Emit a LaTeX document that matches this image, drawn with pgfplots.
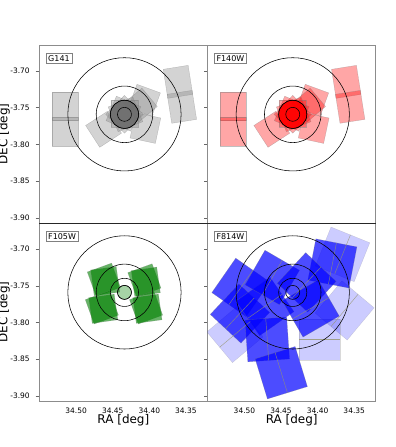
\documentclass[border=0pt]{standalone}
\usepackage{fontspec}
\setmainfont{DejaVu Sans}
\usepackage{pgfplots}
\pgfplotsset{compat=1.18}
\usepgfplotslibrary{groupplots}
\usetikzlibrary{calc}

\tikzset{lbl/.style={draw=black!50, fill=white, anchor=north west, xshift=6.7pt, yshift=-7.7pt,
  font=\fontsize{8}{9}\selectfont, inner xsep=2.1pt, inner ysep=2.4pt, text height=5.8pt, text depth=0pt}}

% WFC3/IR pointings (same for G141 and F140W)
\newcommand{\irfields}{%
\addplot[fp] coordinates {(34.5334,-3.7286) (34.4980,-3.7286) (34.4980,-3.7676) (34.5334,-3.7676)} -- cycle;
\addplot[fp] coordinates {(34.5334,-3.7631) (34.4980,-3.7631) (34.4980,-3.8017) (34.5334,-3.8017)} -- cycle;
\addplot[fp] coordinates {(34.3810,-3.6977) (34.3470,-3.6923) (34.3407,-3.7318) (34.3748,-3.7372)} -- cycle;
\addplot[fp] coordinates {(34.3757,-3.7317) (34.3416,-3.7264) (34.3354,-3.7659) (34.3694,-3.7712)} -- cycle;
\addplot[fp] coordinates {(34.3849,-3.7298) (34.4169,-3.7181) (34.4286,-3.7501) (34.3966,-3.7618)} -- cycle;
\addplot[fp] coordinates {(34.4102,-3.7233) (34.4352,-3.7443) (34.4142,-3.7693) (34.3892,-3.7483)} -- cycle;
\addplot[fp] coordinates {(34.3844,-3.7640) (34.4190,-3.7566) (34.4264,-3.7912) (34.3918,-3.7986)} -- cycle;
\addplot[fp] coordinates {(34.4574,-3.7550) (34.4871,-3.7742) (34.4678,-3.8039) (34.4381,-3.7847)} -- cycle;
\addplot[fp] coordinates {(34.4158,-3.7395) (34.4522,-3.7395) (34.4522,-3.7758) (34.4158,-3.7758)} -- cycle;
\addplot[fp] coordinates {(34.4226,-3.7354) (34.4563,-3.7490) (34.4427,-3.7827) (34.4090,-3.7690)} -- cycle;
\addplot[fp] coordinates {(34.4340,-3.7333) (34.4597,-3.7590) (34.4340,-3.7847) (34.4083,-3.7590)} -- cycle;
\addplot[fp] coordinates {(34.4450,-3.7343) (34.4592,-3.7677) (34.4257,-3.7819) (34.4116,-3.7485)} -- cycle;
}

\newcommand{\rings}{%
\addplot[only marks, mark=o, mark size=56.7pt, mark options={draw=black, line width=0.55pt}] coordinates {(34.434,-3.759)};
\addplot[only marks, mark=o, mark size=28.3pt, mark options={draw=black, line width=0.55pt}] coordinates {(34.434,-3.759)};
\addplot[only marks, mark=o, mark size=14.1pt, mark options={draw=black, line width=0.55pt}] coordinates {(34.434,-3.759)};
\addplot[only marks, mark=o, mark size=7pt, mark options={draw=black, line width=0.55pt}] coordinates {(34.434,-3.759)};
}

\begin{document}
\begin{tikzpicture}
\begin{groupplot}[
  group style={group size=2 by 2, horizontal sep=0pt, vertical sep=0pt},
  scale only axis, width=168.5pt, height=178.3pt,
  x dir=reverse, xmin=34.3205, xmax=34.5505, ymin=-3.907, ymax=-3.6645,
  axis line style={black!45, line width=0.7pt},
  xtick={34.35,34.40,34.45,34.50},
  ytick={-3.90,-3.85,-3.80,-3.75,-3.70},
  xtick style={draw=none},
  ytick style={draw=black!60, line width=0.5pt},
  tick align=outside, ytick pos=left, major tick length=3.5pt,
  tick label style={font=\fontsize{7.5}{9}\selectfont},
  yticklabel style={xshift=-2.5pt},
  every axis x label/.style={at={(axis description cs:0.5,-0.127)}, anchor=base, font=\fontsize{12}{14}\selectfont},
  every axis y label/.style={at={(axis description cs:-0.19,0.5)}, rotate=90, anchor=base, font=\fontsize{12}{14}\selectfont},
  fp/.style={draw=gray, draw opacity=0.5, line width=0.3pt, fill=gray, fill opacity=0.35},
  dk/.style={draw=gray, draw opacity=0.5, line width=0.3pt, fill=blue, fill opacity=0.7},
  lt/.style={draw=gray, draw opacity=0.3, line width=0.3pt, fill=blue, fill opacity=0.2},
  chip/.style={draw={rgb,255:red,150;green,150;blue,110}, line width=0.45pt, draw opacity=0.8},
]
% G141
\nextgroupplot[xticklabels={}, yticklabels={-3.90,-3.85,-3.80,-3.75,-3.70}, ylabel={DEC [deg]}]
\irfields
\addplot[only marks, mark=*, mark size=14.1pt, mark options={fill=black!58, fill opacity=0.85, draw=none}] coordinates {(34.434,-3.759)};
\rings
\node[lbl] at (axis description cs:0,1) {G141};

% F140W
\nextgroupplot[xticklabels={}, yticklabels={},
  fp/.style={draw=gray, draw opacity=0.5, line width=0.3pt, fill=red, fill opacity=0.35}]
\irfields
\addplot[only marks, mark=*, mark size=14.1pt, mark options={fill=red, fill opacity=0.9, draw=none}] coordinates {(34.434,-3.759)};
\rings
\node[lbl] at (axis description cs:0,1) {F140W};

% F105W
\nextgroupplot[xticklabels={34.35,34.40,34.45,34.50}, yticklabels={-3.90,-3.85,-3.80,-3.75,-3.70},
  xlabel={RA [deg]}, ylabel={DEC [deg]},
  fp/.style={draw=gray, draw opacity=0.4, line width=0.3pt, fill={rgb,255:red,0;green,128;blue,0}, fill opacity=0.6}]
\addplot[fp] coordinates {(34.4516,-3.7191) (34.4849,-3.7312) (34.4727,-3.7645) (34.4395,-3.7523)} -- cycle;
\addplot[fp] coordinates {(34.4453,-3.7236) (34.4803,-3.7285) (34.4754,-3.7635) (34.4404,-3.7586)} -- cycle;
\addplot[fp] coordinates {(34.3962,-3.7200) (34.4295,-3.7321) (34.4173,-3.7654) (34.3841,-3.7532)} -- cycle;
\addplot[fp] coordinates {(34.3899,-3.7245) (34.4249,-3.7294) (34.4200,-3.7645) (34.3850,-3.7595)} -- cycle;
\addplot[fp] coordinates {(34.4543,-3.7567) (34.4876,-3.7689) (34.4755,-3.8021) (34.4422,-3.7900)} -- cycle;
\addplot[fp] coordinates {(34.4480,-3.7613) (34.4830,-3.7662) (34.4781,-3.8012) (34.4431,-3.7963)} -- cycle;
\addplot[fp] coordinates {(34.3939,-3.7567) (34.4272,-3.7689) (34.4151,-3.8021) (34.3818,-3.7900)} -- cycle;
\addplot[fp] coordinates {(34.3876,-3.7613) (34.4227,-3.7662) (34.4178,-3.8012) (34.3827,-3.7963)} -- cycle;
\addplot[only marks, mark=*, mark size=7pt, mark options={fill={rgb,255:red,0;green,128;blue,0}, fill opacity=0.35, draw=none}] coordinates {(34.434,-3.759)};
\rings
\node[lbl] at (axis description cs:0,1) {F105W};

% F814W
\nextgroupplot[xticklabels={34.35,34.40,34.45,34.50}, yticklabels={}, xlabel={RA [deg]}]
% light exposures
\addplot[lt] coordinates {(34.3287,-3.6914) (34.3817,-3.6700) (34.4031,-3.7230) (34.3501,-3.7444)} -- cycle;
\addplot[lt] coordinates {(34.3228,-3.7800) (34.3667,-3.7432) (34.4035,-3.7871) (34.3596,-3.8239)} -- cycle;
\addplot[lt] coordinates {(34.3693,-3.7951) (34.4251,-3.7951) (34.4251,-3.8510) (34.3693,-3.8510)} -- cycle;
\addplot[lt] coordinates {(34.5096,-3.7778) (34.5514,-3.8128) (34.5164,-3.8546) (34.4746,-3.8196)} -- cycle;
% deep exposures
\addplot[dk] coordinates {(34.3463,-3.6970) (34.4024,-3.6861) (34.4133,-3.7422) (34.3572,-3.7531)} -- cycle;
\addplot[dk] coordinates {(34.5119,-3.7124) (34.5446,-3.7593) (34.4978,-3.7920) (34.4651,-3.7451)} -- cycle;
\addplot[dk] coordinates {(34.5076,-3.7472) (34.5467,-3.7890) (34.5048,-3.8281) (34.4657,-3.7863)} -- cycle;
\addplot[dk] coordinates {(34.4651,-3.7383) (34.5119,-3.7710) (34.4792,-3.8179) (34.4324,-3.7852)} -- cycle;
\addplot[dk] coordinates {(34.4720,-3.7016) (34.4993,-3.7488) (34.4521,-3.7760) (34.4249,-3.7289)} -- cycle;
\addplot[dk] coordinates {(34.4163,-3.7049) (34.4554,-3.7467) (34.4136,-3.7858) (34.3745,-3.7440)} -- cycle;
\addplot[dk] coordinates {(34.3990,-3.7417) (34.4486,-3.7703) (34.4200,-3.8199) (34.3704,-3.7913)} -- cycle;
\addplot[dk] coordinates {(34.4423,-3.7925) (34.4994,-3.7965) (34.4954,-3.8536) (34.4384,-3.8496)} -- cycle;
\addplot[dk] coordinates {(34.4307,-3.8327) (34.4854,-3.8495) (34.4686,-3.9041) (34.4140,-3.8873)} -- cycle;
% chip gaps
\addplot[chip] coordinates {(34.3552,-3.6807) (34.3766,-3.7337)};
\addplot[chip] coordinates {(34.3448,-3.7616) (34.3816,-3.8055)};
\addplot[chip] coordinates {(34.4251,-3.8230) (34.3693,-3.8230)};
\addplot[chip] coordinates {(34.5339,-3.8337) (34.4921,-3.7987)};
\addplot[chip] coordinates {(34.3743,-3.6916) (34.3852,-3.7477)};
\addplot[chip] coordinates {(34.5212,-3.7756) (34.4885,-3.7288)};
\addplot[chip] coordinates {(34.5258,-3.8085) (34.4867,-3.7667)};
\addplot[chip] coordinates {(34.4956,-3.7944) (34.4487,-3.7617)};
\addplot[chip] coordinates {(34.4757,-3.7624) (34.4484,-3.7153)};
\addplot[chip] coordinates {(34.4345,-3.7663) (34.3954,-3.7245)};
\addplot[chip] coordinates {(34.4343,-3.7951) (34.3847,-3.7665)};
\addplot[chip] coordinates {(34.4709,-3.7945) (34.4669,-3.8516)};
\addplot[chip] coordinates {(34.4581,-3.8411) (34.4413,-3.8957)};
\rings
\node[lbl] at (axis description cs:0,1) {F814W};
\end{groupplot}
\draw[black!85, line width=0.8pt] (group c1r1.south west) -- (group c2r1.south east);
\pgfresetboundingbox
\path ($(group c1r1.north west)+(-39.3pt,45pt)$) rectangle ($(group c2r2.south east)+(19.3pt,-46pt)$);
\end{tikzpicture}
\end{document}
